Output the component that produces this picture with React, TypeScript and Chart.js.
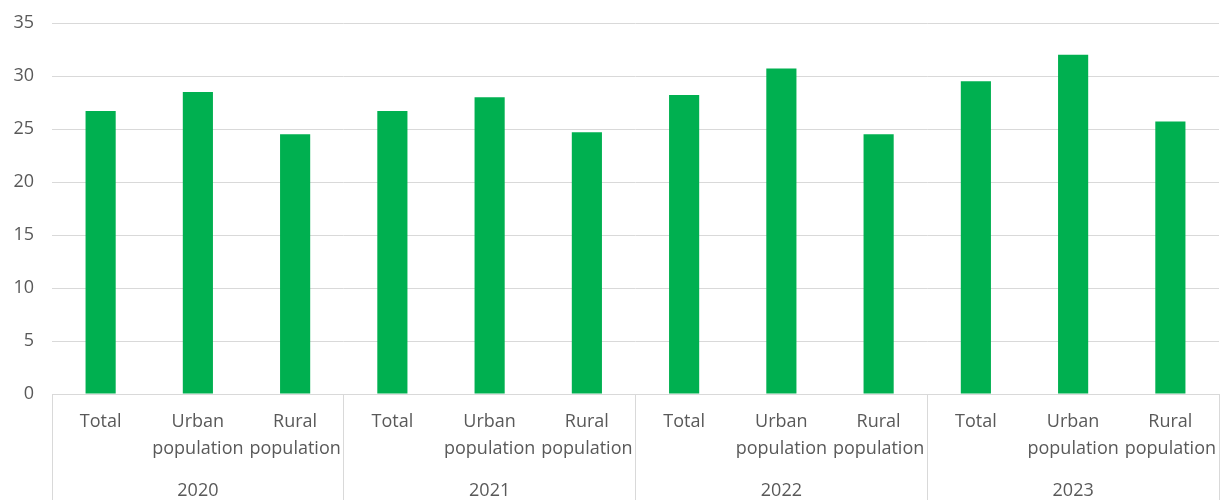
import React, { useEffect, useRef } from "react";
import { Chart, registerables } from "chart.js";

Chart.register(...registerables);

const years = ["2020", "2021", "2022", "2023"];
const subCategories: string[][] = [["Total"], ["Urban", "population"], ["Rural", "population"]];
const values2020 = [26.7, 28.5, 24.5];
const values2021 = [26.7, 28.0, 24.7];
const values2022 = [28.2, 30.7, 24.5];
const values2023 = [29.5, 32.0, 25.7];
const yMin = 0;
const yMax = 35;
const yStep = 5;

const FONT = "'Open Sans', sans-serif";
const TEXT = "#595959";
const GRID = "#d9d9d9";
const BAR = "#00B050";

export default function App() {
  const ref = useRef<HTMLCanvasElement | null>(null);

  useEffect(() => {
    if (!ref.current) return;
    const labels = years.flatMap(() => subCategories);
    const data = [...values2020, ...values2021, ...values2022, ...values2023];
    const perGroup = subCategories.length;

    const chart = new Chart(ref.current, {
      type: "bar",
      data: {
        labels: labels as any,
        datasets: [
          {
            data,
            backgroundColor: BAR,
            borderWidth: 0,
            barPercentage: 0.31,
            categoryPercentage: 1,
          },
        ],
      },
      options: {
        responsive: false,
        animation: false,
        devicePixelRatio: 1,
        layout: { padding: { top: 23, left: 0, right: 1, bottom: 0 } },
        plugins: { legend: { display: false }, tooltip: { enabled: false } },
        scales: {
          x: {
            type: "category",
            position: "bottom",
            offset: true,
            afterFit: (axis: any) => {
              axis.height = 87;
            },
            grid: {
              offset: true,
              drawOnChartArea: false,
              drawTicks: true,
              tickLength: 110,
              lineWidth: 1,
              color: (ctx: any) =>
                ctx.index === undefined || ctx.index % perGroup === 0 ? GRID : "rgba(0,0,0,0)",
            },
            border: { display: true, color: GRID, width: 1 },
            ticks: {
              autoSkip: false,
              maxRotation: 0,
              minRotation: 0,
              padding: 14.5 - 110,
              color: TEXT,
              font: { family: FONT, size: 18, lineHeight: "27px" as any },
            },
          },
          x2: {
            type: "category",
            position: "bottom",
            labels: years,
            offset: true,
            afterFit: (axis: any) => {
              axis.height = 19;
            },
            grid: { display: false, drawTicks: false },
            border: { display: false },
            ticks: {
              autoSkip: false,
              maxRotation: 0,
              padding: 0.5,
              color: TEXT,
              font: { family: FONT, size: 18, lineHeight: "18px" as any },
            },
          },
          y: {
            min: yMin,
            max: yMax,
            afterFit: (axis: any) => {
              axis.width = 52;
              axis.paddingTop = 0;
              axis.paddingBottom = 0;
            },
            ticks: {
              stepSize: yStep,
              padding: 18,
              color: TEXT,
              font: { family: FONT, size: 18 },
            },
            grid: { color: GRID, lineWidth: 1, drawTicks: false },
            border: { display: false },
          },
        },
      },
    });
    return () => chart.destroy();
  }, []);

  return (
    <div style={{ position: "absolute", left: 0, top: 0, width: 1220, height: 500, background: "#fff" }}>
      <canvas ref={ref} width={1220} height={500} style={{ display: "block" }} />
    </div>
  );
}
